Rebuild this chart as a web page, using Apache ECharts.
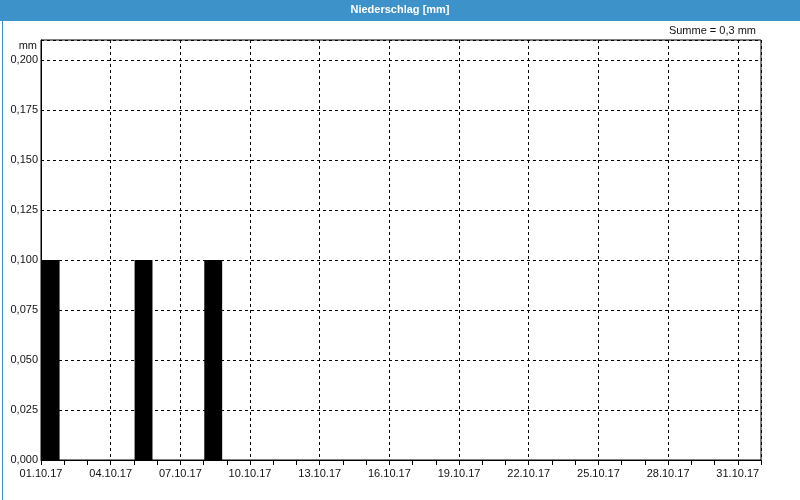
<!DOCTYPE html>
<html>
<head>
<meta charset="utf-8">
<script src="https://cdn.jsdelivr.net/npm/echarts@6/dist/echarts.min.js"></script>
<style>
html,body{margin:0;padding:0;background:#fff;}
#c{width:800px;height:500px;}
</style>
</head>
<body>
<div id="c"></div>
<script>
// Days of October 2017 (tick labels shown every 3rd day)
var dates = ["01.10.17","02.10.17","03.10.17","04.10.17","05.10.17","06.10.17","07.10.17","08.10.17","09.10.17","10.10.17",
             "11.10.17","12.10.17","13.10.17","14.10.17","15.10.17","16.10.17","17.10.17","18.10.17","19.10.17","20.10.17",
             "21.10.17","22.10.17","23.10.17","24.10.17","25.10.17","26.10.17","27.10.17","28.10.17","29.10.17","30.10.17","31.10.17"];
// Daily precipitation [mm]
var precip = [0.1,0,0,0,0.1,0,0,0.1,0,0,
              0,0,0,0,0,0,0,0,0,0,
              0,0,0,0,0,0,0,0,0,0,0];
var titleText = "Niederschlag [mm]";
var unitText = "mm";

var sum = precip.reduce(function(a,b){return a+b;},0);
var sumText = "Summe = " + (Math.round(sum*10)/10).toString().replace('.', ',') + " mm";

var FONT = "Liberation Sans";
var seriesData = precip.map(function(v,i){ return [i, v]; });

var chart = echarts.init(document.getElementById('c'), null, {renderer:'canvas'});
chart.setOption({
  animation:false,
  backgroundColor:'#ffffff',
  textStyle:{fontFamily:FONT},
  grid:{left:41,right:39,top:40,bottom:40,show:true,borderColor:'#000',borderWidth:1,backgroundColor:'#fff'},
  xAxis:[{
    type:'value', min:0, max:dates.length, interval:3,
    axisLine:{show:true,lineStyle:{color:'#000',width:1}},
    axisTick:{show:false},
    axisLabel:{show:true,color:'#111',fontSize:11,fontFamily:FONT,margin:8,showMaxLabel:false,
      formatter:function(v){ var i=Math.round(v); return (i<dates.length && Math.abs(v-i)<1e-6)?dates[i]:''; }},
    splitLine:{show:true,lineStyle:{color:'#000',type:[3,3],width:1}}
  },{
    type:'value', min:0, max:dates.length, interval:1, position:'bottom',
    axisLine:{show:false},
    axisTick:{show:true,length:5,lineStyle:{color:'#000'}},
    axisLabel:{show:false},
    splitLine:{show:false}
  }],
  yAxis:{
    type:'value', min:0, max:0.21, interval:0.025,
    axisLine:{show:true,lineStyle:{color:'#000',width:1}},
    axisTick:{show:false},
    axisLabel:{color:'#111',fontSize:11,fontFamily:FONT,margin:3,
      formatter:function(v){ return v>0.2001?'':v.toFixed(3).replace('.', ','); }},
    splitLine:{show:true,lineStyle:{color:'#000',type:[3,3],width:1}}
  },
  series:[{
    type:'custom',
    xAxisIndex:0,
    data:seriesData,
    renderItem:function(params, api){
      var d = api.value(0), v = api.value(1);
      if(!v) return null;
      var p0 = api.coord([d+0.03, v]);
      var p1 = api.coord([d+0.8, 0]);
      return {type:'rect', shape:{x:p0[0], y:p0[1], width:p1[0]-p0[0], height:p1[1]-p0[1]},
              style:{fill:'#000'}};
    },
    z:3
  }],
  graphic:[
    {type:'rect', left:0, top:0, shape:{width:800,height:21}, style:{fill:'#3d92ca'}, z:10},
    {type:'rect', left:0, top:0, shape:{x:0.5,y:0.5,width:799,height:499}, style:{fill:null,stroke:'#3d92ca',lineWidth:1}, z:10},
    {type:'text', x:400, y:10, style:{text:titleText, fill:'#fff', font:'bold 11px "'+FONT+'"', textAlign:'center', textVerticalAlign:'middle'}, z:11},
    {type:'text', x:756, y:31, style:{text:sumText, fill:'#111', font:'11px "'+FONT+'"', textAlign:'right', textVerticalAlign:'middle'}, z:11},
    {type:'text', x:37, y:46, style:{text:unitText, fill:'#111', font:'11px "'+FONT+'"', textAlign:'right', textVerticalAlign:'middle'}, z:11}
  ]
});
</script>
</body>
</html>
